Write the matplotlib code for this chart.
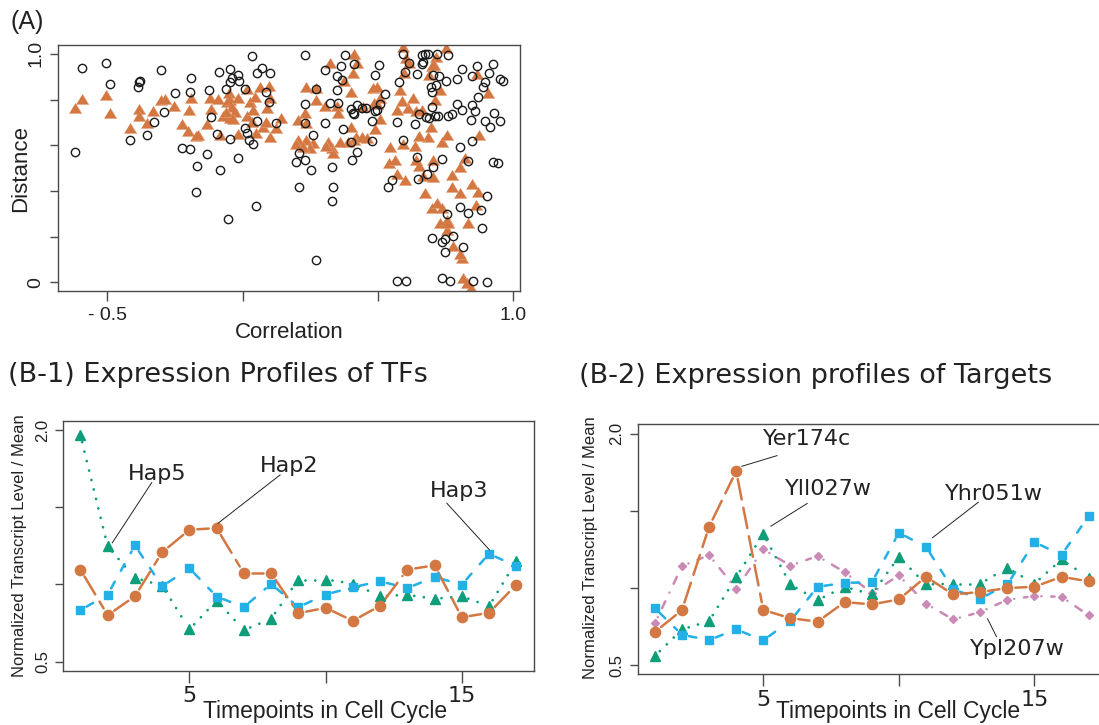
import numpy as np
import matplotlib
matplotlib.use("Agg")
import matplotlib.pyplot as plt

plt.rcParams["font.family"] = "DejaVu Sans"
plt.rcParams["lines.scale_dashes"] = False
plt.rcParams["text.color"] = "#222222"

# ---- panel A: correlation vs distance ----
corr_all = [-0.591, -0.505, -0.491, -0.618, -0.384, -0.377, -0.386, -0.414, -0.351, -0.301,
            -0.325, -0.290, -0.249, -0.190, -0.195, -0.223, -0.195, -0.168, -0.173, -0.132,
            -0.122, -0.115, -0.095, -0.088, -0.046, -0.015, -0.013, -0.039, -0.046, -0.061,
            -0.046, -0.082, -0.018, -0.054, 0.051, 0.036, 0.072, 0.055, 0.100, 0.085,
            0.098, 0.010, 0.010, 0.052, 0.024, 0.038, 0.124, 0.015,
            0.231, 0.378, 0.411, 0.304, 0.363, 0.489, 0.505, 0.347, 0.366, 0.271,
            0.347, 0.232, 0.323, 0.354, 0.401, 0.409, 0.424, 0.440, 0.456, 0.477,
            0.507, 0.525, 0.411, 0.489, 0.304, 0.372, 0.232, 0.261, 0.399, 0.424,
            0.403, 0.208, 0.196, 0.232, 0.253, 0.329, 0.207, 0.335, 0.329, 0.270,
            0.478, 0.498, 0.594, 0.661, 0.673, 0.683, 0.665, 0.717, 0.759, 0.645,
            0.579, 0.598, 0.616, 0.662, 0.704, 0.725, 0.714, 0.698, 0.696, 0.750,
            0.790, 0.809, 0.846, 0.864, 0.911, 0.926, 0.894, 0.950, 0.962, 0.870,
            0.889, 0.848, 0.843, 0.858, 0.809, 0.790, 0.772, 0.760, 0.723, 0.710,
            0.688, 0.677, 0.698, 0.653, 0.637, 0.569, 0.929, 0.895, 0.913, 0.949,
            0.803, 0.846, 0.594, 0.643, 0.704, 0.735, 0.833, 0.926, 0.944, 0.680,
            0.649, 0.550, 0.538, 0.803, 0.833, 0.880, 0.901, 0.883, 0.756, 0.698,
            0.735, 0.747, 0.778, 0.747, 0.815, 0.569, 0.603, 0.737, 0.765, 0.901,
            0.852]
dist_all = [0.939, 0.959, 0.870, 0.572, 0.879, 0.883, 0.853, 0.623, 0.644, 0.928,
            0.701, 0.747, 0.831, 0.896, 0.832, 0.588, 0.582, 0.508, 0.394, 0.561,
            0.842, 0.723, 0.650, 0.921, 0.936, 0.908, 0.882, 0.893, 0.876, 0.847,
            0.626, 0.492, 0.546, 0.276, 0.336, 0.991, 0.937, 0.915, 0.918, 0.832,
            0.791, 0.847, 0.674, 0.707, 0.623, 0.607, 0.699, 0.653,
            0.996, 0.996, 0.955, 0.928, 0.949, 0.908, 0.953, 0.904, 0.886, 0.845,
            0.842, 0.781, 0.784, 0.787, 0.759, 0.740, 0.777, 0.762, 0.765, 0.708,
            0.780, 0.823, 0.737, 0.752, 0.699, 0.670, 0.699, 0.644, 0.616, 0.569,
            0.536, 0.568, 0.528, 0.536, 0.492, 0.507, 0.419, 0.416, 0.356, 0.099,
            0.619, 0.755, 1.000, 0.996, 0.999, 1.000, 0.966, 1.000, 0.996, 0.911,
            0.876, 0.920, 0.962, 0.956, 0.907, 0.902, 0.864, 0.832, 0.854, 0.883,
            0.889, 0.934, 0.904, 0.949, 0.915, 0.955, 0.878, 0.889, 0.883, 0.810,
            0.854, 0.777, 0.711, 0.750, 0.755, 0.781, 0.736, 0.726, 0.728, 0.726,
            0.721, 0.723, 0.766, 0.737, 0.693, 0.704, 0.742, 0.707, 0.682, 0.707,
            0.594, 0.619, 0.623, 0.547, 0.504, 0.539, 0.533, 0.527, 0.521, 0.474,
            0.451, 0.448, 0.416, 0.328, 0.305, 0.317, 0.380, 0.239, 0.299, 0.196,
            0.178, 0.188, 0.204, 0.134, 0.153, 0.007, 0.007, 0.018, 0.007, 0.000,
            0.007]

corr_pair = [-0.618, -0.591, -0.505, -0.491, -0.414, -0.384, -0.381, -0.351, -0.329, -0.301,
             -0.286, -0.253, -0.223, -0.200, -0.196, -0.190, -0.173, -0.165, -0.132, -0.115,
             -0.120, -0.089, -0.082, -0.071, -0.058, -0.049, -0.046, -0.040, -0.046, -0.028,
             -0.015, -0.018, 0.015, 0.015, 0.028, 0.034, 0.049, 0.046, 0.065, 0.077,
             0.087, 0.089, 0.099, 0.101, 0.101, 0.124, 0.040, -0.061, -0.034,
             0.411, 0.323, 0.406, 0.424, 0.374, 0.399, 0.234, 0.271, 0.271, 0.306,
             0.347, 0.351, 0.230, 0.206, 0.234, 0.141, 0.480, 0.495, 0.486, 0.507,
             0.507, 0.489, 0.498, 0.443, 0.399, 0.419, 0.411, 0.440, 0.461, 0.391,
             0.360, 0.329, 0.317, 0.335, 0.308, 0.261, 0.234, 0.206, 0.197, 0.249,
             0.222, 0.594, 0.603, 0.616, 0.596, 0.581, 0.698, 0.714, 0.708, 0.750,
             0.689, 0.729, 0.710, 0.630, 0.609, 0.587, 0.569, 0.640, 0.661, 0.694,
             0.686, 0.653, 0.637, 0.594, 0.544, 0.542, 0.563, 0.569, 0.600, 0.640,
             0.653, 0.702, 0.667, 0.704, 0.735, 0.753, 0.772, 0.821, 0.803, 0.673,
             0.772, 0.803, 0.846, 0.870, 0.862, 0.833, 0.698, 0.716, 0.735, 0.729,
             0.753, 0.753, 0.759, 0.778, 0.809, 0.803, 0.815, 0.827, 0.842, 0.867,
             0.907, 0.874]
dist_pair = [0.765, 0.801, 0.820, 0.743, 0.677, 0.758, 0.728, 0.696, 0.750, 0.799,
             0.801, 0.771, 0.693, 0.664, 0.755, 0.809, 0.641, 0.645, 0.692, 0.758,
             0.806, 0.801, 0.647, 0.726, 0.791, 0.828, 0.799, 0.769, 0.718, 0.747,
             0.806, 0.648, 0.728, 0.845, 0.791, 0.704, 0.653, 0.813, 0.853, 0.682,
             0.704, 0.762, 0.860, 0.806, 0.635, 0.674, 0.755, 0.747, 0.714,
             1.000, 0.959, 0.915, 0.959, 0.882, 0.835, 0.857, 0.850, 0.799, 0.772,
             0.772, 0.740, 0.743, 0.711, 0.699, 0.718, 0.850, 0.857, 0.787, 0.806,
             0.714, 0.670, 0.781, 0.769, 0.679, 0.635, 0.623, 0.635, 0.631, 0.616,
             0.616, 0.587, 0.616, 0.565, 0.597, 0.609, 0.623, 0.623, 0.604, 0.587,
             0.591, 1.032, 0.981, 0.959, 0.915, 0.842, 0.945, 0.988, 0.952, 1.025,
             0.908, 0.842, 0.799, 0.809, 0.765, 0.796, 0.755, 0.750, 0.755, 0.682,
             0.635, 0.641, 0.597, 0.604, 0.591, 0.521, 0.536, 0.474, 0.448, 0.536,
             0.511, 0.536, 0.467, 0.463, 0.616, 0.645, 0.470, 0.546, 0.507, 0.393,
             0.416, 0.393, 0.431, 0.397, 0.339, 0.261, 0.324, 0.346, 0.324, 0.261,
             0.273, 0.229, 0.258, 0.159, 0.105, 0.124, 0.018, -0.004, -0.026, 0.911,
             0.828, 0.645]

# ---- panel B: expression over the cell cycle ----
timepoints = np.arange(1, 18)
hap2 = [1.096, 0.801, 0.924, 1.208, 1.354, 1.365, 1.072, 1.072, 0.814, 0.849,
        0.765, 0.862, 1.096, 1.124, 0.788, 0.816, 0.999]
hap3 = [0.834, 0.935, 1.253, 0.988, 1.105, 0.922, 0.853, 1.004, 0.853, 0.935,
        0.982, 1.021, 0.976, 1.049, 0.999, 1.199, 1.118]
hap5 = [1.965, 1.247, 1.042, 0.993, 0.709, 0.896, 0.704, 0.778, 1.032, 1.032,
        1.006, 0.924, 0.933, 0.907, 0.924, 0.859, 1.152]

yer174c = [0.714, 0.856, 1.396, 1.756, 0.856, 0.804, 0.781, 0.908, 0.893, 0.925,
           1.072, 0.958, 0.973, 0.999, 1.007, 1.072, 1.042]
yll027w = [0.558, 0.731, 0.785, 1.070, 1.350, 1.022, 0.921, 1.007, 0.958, 1.201,
           1.022, 1.027, 1.027, 1.130, 1.027, 1.184, 1.066]
yhr051w = [0.869, 0.696, 0.662, 0.731, 0.660, 0.787, 1.007, 1.033, 1.035, 1.357,
           1.266, 0.990, 0.930, 1.022, 1.296, 1.214, 1.465]
ypl207w = [0.770, 1.141, 1.212, 0.994, 1.249, 1.145, 1.206, 1.102, 0.968, 1.081,
           0.897, 0.796, 0.843, 0.923, 0.947, 0.942, 0.822]

ORANGE = "#d37842"
BLUE = "#22b0e6"
GREEN = "#0e9e7a"
PINK = "#c98ab6"
FRAME = "#4a4a4a"

W, H = 1099, 725


def fx(px):
    return px / W


def fy(py):
    return 1 - py / H


def gapped(ax, x, y, gap, **kw):
    # type="b" style: every segment is trimmed back from both points
    pts = ax.transData.transform(np.column_stack([x, y]))
    inv = ax.transData.inverted()
    for p0, p1 in zip(pts[:-1], pts[1:]):
        d = p1 - p0
        n = np.hypot(d[0], d[1])
        if n <= 2 * gap + 1:
            continue
        u = d / n
        a, b = inv.transform(np.array([p0 + u * gap, p1 - u * gap]))
        ax.plot([a[0], b[0]], [a[1], b[1]], dash_capstyle="round",
                solid_capstyle="round", **kw)


def frame(ax):
    for s in ax.spines.values():
        s.set_color(FRAME)
        s.set_linewidth(1.0)
    ax.tick_params(colors=FRAME, labelcolor="#222222", width=1.0)


fig = plt.figure(figsize=(W / 100, H / 100), dpi=100)

# ---------------- (A) ----------------
axA = fig.add_axes([fx(58.3), fy(291), fx(520 - 58.3), (291 - 45) / H])
axA.set_xlim(-0.68, 1.024)
axA.set_ylim(-0.038, 1.039)
tri = [(-1, -0.8), (1, -0.8), (0, 0.85)]
axA.plot(corr_pair, dist_pair, ls="none", marker=tri, ms=9.0, color=ORANGE,
         mec="#e8a27a", mew=0.4)
axA.plot(corr_all, dist_all, ls="none", marker="o", ms=6.0, mfc="none",
         mec="#1a1a1a", mew=1.0)
axA.set_xticks([-0.5, 0, 0.5, 1.0])
axA.set_xticklabels(["- 0.5", "", "", "1.0"], family="Liberation Sans", fontsize=14)
axA.set_yticks([0, 0.2, 0.4, 0.6, 0.8, 1.0])
axA.set_yticklabels(["0", "", "", "", "", "1.0"], family="Liberation Sans",
                    fontsize=14, rotation=90, va="center")
frame(axA)
axA.tick_params(axis="x", length=7.2, pad=4)
axA.tick_params(axis="y", length=6, pad=4)

fig.text(fx(10), fy(29), "(A)", family="Liberation Sans", fontsize=18,
         ha="left", va="baseline")
fig.text(fx(21), fy(169), "Distance", family="Liberation Sans", fontsize=16,
         rotation=90, ha="center", va="center")
fig.text(fx(289), fy(338), "Correlation", family="Liberation Sans", fontsize=16,
         ha="center", va="baseline")


# ---------------- (B) ----------------
def profile_axes(rect):
    ax = fig.add_axes(rect)
    ax.set_xlim(0.36, 17.64)
    ax.set_ylim(0.44, 2.06)
    ax.set_xticks([5, 10, 15])
    ax.set_xticklabels(["5", "", "15"], fontsize=16)
    ax.set_yticks([0.5, 1.0, 1.5, 2.0])
    ax.set_yticklabels(["0.5", "", "", "2.0"], family="Liberation Sans",
                       fontsize=12, rotation=90, va="center")
    frame(ax)
    ax.tick_params(axis="x", length=8.6, pad=2.5)
    ax.tick_params(axis="y", length=5.8, pad=3.5)
    return ax


LW = 1.8
long_dash = dict(color=ORANGE, lw=LW, dashes=(15, 6))
short_dash = dict(color=BLUE, lw=LW, dashes=(5.5, 9))
dots = dict(color=GREEN, lw=2.0, dashes=(0.01, 7))
dot_dash = dict(color=PINK, lw=LW, dashes=(0.01, 7, 5.5, 7))

ax1 = profile_axes([fx(63), fy(671), fx(533.7 - 63), (671 - 420.7) / H])
gapped(ax1, timepoints, hap5, 7, **dots)
gapped(ax1, timepoints, hap3, 7, **short_dash)
gapped(ax1, timepoints, hap2, 8, **long_dash)
ax1.plot(timepoints, hap5, ls="none", marker="^", ms=6.8, color=GREEN)
ax1.plot(timepoints, hap3, ls="none", marker="s", ms=5.6, color=BLUE)
ax1.plot(timepoints, hap2, ls="none", marker="o", ms=7.4, color=ORANGE)

ax2 = profile_axes([fx(637.5), fy(674.3), fx(468.5), (674.3 - 424.3) / H])
gapped(ax2, timepoints, ypl207w, 7, **dot_dash)
gapped(ax2, timepoints, yll027w, 7, **dots)
gapped(ax2, timepoints, yhr051w, 7, **short_dash)
gapped(ax2, timepoints, yer174c, 8, **long_dash)
ax2.plot(timepoints, ypl207w, ls="none", marker="D", ms=4.4, color=PINK)
ax2.plot(timepoints, yll027w, ls="none", marker="^", ms=6.8, color=GREEN)
ax2.plot(timepoints, yhr051w, ls="none", marker="s", ms=5.6, color=BLUE)
ax2.plot(timepoints, yer174c, ls="none", marker="o", ms=7.4, color=ORANGE)

# gene labels with leader lines
labels_tf = [("Hap5", 3.80, 1.677, (3.62, 2.17), (1.66, 1.27)),
             ("Hap2", 8.65, 1.730, (8.33, 6.05), (1.709, 1.396)),
             ("Hap3", 14.89, 1.569, (14.45, 16.01), (1.526, 1.225))]
labels_tg = [("Yer174c", 6.61, 1.928, (5.505, 4.21), (1.857, 1.788)),
             ("Yll027w", 7.41, 1.605, (6.62, 5.28), (1.547, 1.40)),
             ("Yhr051w", 13.5, 1.572, (12.93, 11.24), (1.555, 1.325)),
             ("Ypl207w", 14.36, 0.563, (13.6, 13.27), (0.684, 0.80))]
for ax, labs in ((ax1, labels_tf), (ax2, labels_tg)):
    for name, tx, ty, lx, ly in labs:
        ax.plot(lx, ly, color="#222222", lw=0.7)
        ax.text(tx, ty, name, fontsize=16, ha="center", va="baseline")

ylab = "Normalized Transcript Level / Mean"
fig.text(fx(20), fy(546), ylab, family="Liberation Sans",
         fontsize=12, rotation=90, ha="center", va="center")
fig.text(fx(590), fy(548), ylab, family="Liberation Sans",
         fontsize=12, rotation=90, ha="center", va="center")
fig.text(fx(325), fy(718), "Timepoints in Cell Cycle", family="Liberation Sans",
         fontsize=16.5, ha="center", va="baseline")
fig.text(fx(898), fy(718), "Timepoints in Cell Cycle", family="Liberation Sans",
         fontsize=16.5, ha="center", va="baseline")

fig.text(fx(8), fy(382), "(B-1) Expression Profiles of TFs", fontsize=19.5,
         ha="left", va="baseline")
fig.text(fx(579), fy(383), "(B-2) Expression profiles of Targets", fontsize=19.5,
         ha="left", va="baseline")

fig.savefig("out.png", dpi=100)
